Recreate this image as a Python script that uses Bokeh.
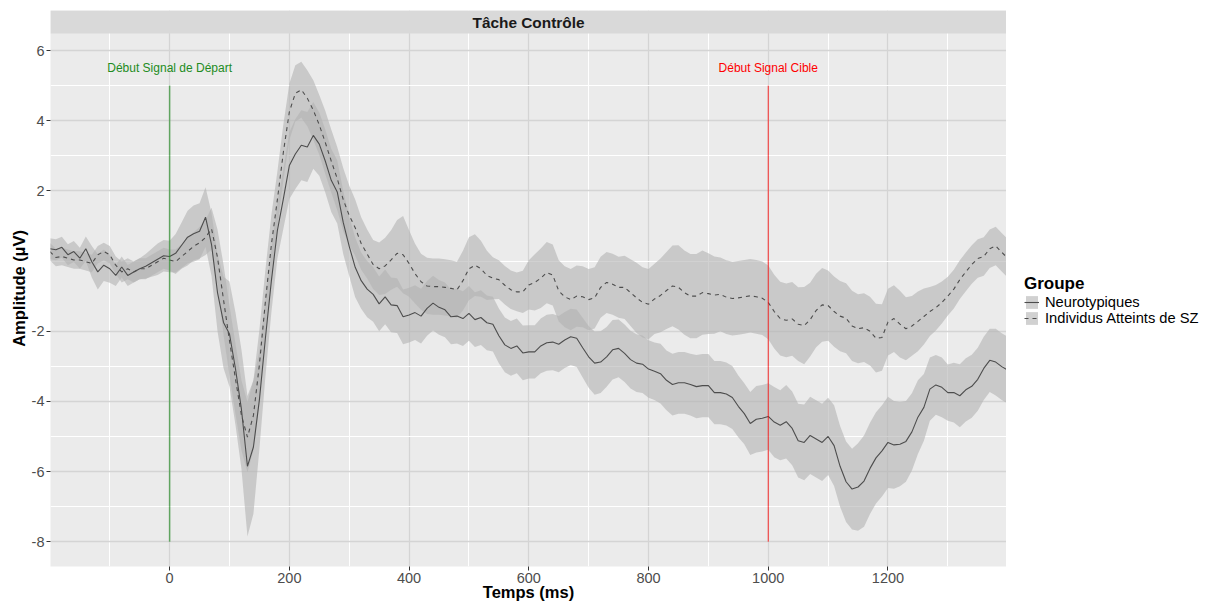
from bokeh.plotting import figure
from bokeh.layouts import row
from bokeh.models import (ColumnDataSource, FixedTicker, Range1d, BoxAnnotation,
                          Label, Legend, LegendItem)
from bokeh.core.properties import value
from bokeh.embed import file_html
from bokeh.resources import INLINE

FONT = "Liberation Sans"

# ---- data ----
times = list(range(-200, 1401, 10))

neuro_mean = [
    0.35, 0.32, 0.39, 0.18, 0.27, 0.08, 0.35, -0.02, -0.31, -0.12,
    -0.22, -0.41, -0.17, -0.41, -0.31, -0.22, -0.15, -0.05, 0.05, 0.15,
    0.13, 0.22, 0.45, 0.68, 0.78, 0.85, 1.25, 0.47, -0.9, -1.75,
    -2.08, -3.07, -4.23, -5.85, -5.3, -3.95, -2.2, -0.56, 0.87, 1.77,
    2.72, 3.05, 3.3, 3.25, 3.58, 3.33, 2.85, 2.3, 1.97, 1.1,
    0.42, -0.18, -0.56, -0.8, -0.95, -1.22, -1.02, -1.25, -1.27, -1.59,
    -1.54, -1.47, -1.57, -1.35, -1.2, -1.32, -1.39, -1.59, -1.57, -1.64,
    -1.49, -1.67, -1.61, -1.76, -1.8, -2.13, -2.39, -2.49, -2.42, -2.62,
    -2.59, -2.59, -2.42, -2.33, -2.31, -2.37, -2.25, -2.16, -2.2, -2.47,
    -2.73, -2.91, -2.88, -2.73, -2.53, -2.49, -2.63, -2.81, -2.91, -2.94,
    -3.08, -3.14, -3.21, -3.4, -3.52, -3.47, -3.47, -3.52, -3.58, -3.55,
    -3.55, -3.75, -3.75, -3.79, -3.89, -4.14, -4.35, -4.63, -4.51, -4.48,
    -4.43, -4.59, -4.68, -4.58, -4.77, -5.12, -5.17, -4.97, -5.07, -5.17,
    -5.0, -5.26, -5.85, -6.29, -6.5, -6.44, -6.27, -5.91, -5.61, -5.41,
    -5.17, -5.24, -5.22, -5.14, -4.87, -4.45, -4.17, -3.65, -3.53, -3.6,
    -3.75, -3.75, -3.84, -3.67, -3.57, -3.37, -3.06, -2.83, -2.88, -3.01,
    -3.11,
]

neuro_ci = [
    0.3, 0.3, 0.3, 0.3, 0.3, 0.3, 0.35, 0.45, 0.5, 0.45,
    0.4, 0.3, 0.3, 0.3, 0.3, 0.3, 0.35, 0.4, 0.45, 0.45,
    0.45, 0.55, 0.65, 0.75, 0.8, 0.8, 0.85, 0.9, 1.1, 1.3,
    1.5, 1.6, 1.7, 2.0, 1.9, 1.4, 1.1, 0.9, 0.8, 0.85,
    0.95, 1.0, 1.0, 1.0, 0.95, 0.9, 0.9, 0.9, 0.9, 0.9,
    0.85, 0.85, 0.8, 0.8, 0.78, 0.78, 0.78, 0.78, 0.78, 0.78,
    0.78, 0.78, 0.78, 0.78, 0.78, 0.78, 0.78, 0.78, 0.78, 0.78,
    0.78, 0.78, 0.78, 0.78, 0.78, 0.78, 0.78, 0.78, 0.78, 0.78,
    0.76, 0.76, 0.78, 0.8, 0.8, 0.8, 0.8, 0.8, 0.82, 0.85,
    0.88, 0.9, 0.88, 0.85, 0.85, 0.82, 0.82, 0.82, 0.82, 0.82,
    0.82, 0.82, 0.85, 0.85, 0.88, 0.88, 0.88, 0.88, 0.9, 0.9,
    0.9, 0.9, 0.9, 0.9, 0.9, 0.88, 0.87, 0.9, 0.95, 0.95,
    0.95, 1.0, 1.0, 1.05, 1.05, 1.05, 1.08, 1.1, 1.1, 1.1,
    1.1, 1.15, 1.15, 1.15, 1.15, 1.25, 1.3, 1.3, 1.3, 1.3,
    1.3, 1.25, 1.2, 1.15, 1.1, 1.05, 0.95, 0.9, 0.85, 0.85,
    0.8, 0.85, 0.9, 0.9, 0.9, 0.9, 0.9, 0.9, 0.95, 0.95,
    0.95,
]

sz_mean = [
    0.27, 0.1, 0.13, 0.08, 0.03, 0.03, -0.02, -0.07, 0.18, 0.27,
    0.18, -0.12, -0.31, -0.22, -0.31, -0.22, -0.22, -0.12, -0.02, 0.08,
    0.03, -0.02, 0.13, 0.27, 0.42, 0.52, 0.67, 0.92, 0.1, -1.1,
    -2.27, -3.36, -4.4, -5.02, -4.4, -2.95, -1.15, 0.47, 1.75, 3.1,
    4.25, 4.78, 4.88, 4.64, 4.3, 3.88, 3.38, 2.85, 2.35, 1.75,
    1.3, 0.95, 0.5, 0.2, -0.1, -0.22, -0.14, 0.03, 0.22, 0.18,
    -0.07, -0.36, -0.59, -0.71, -0.73, -0.73, -0.75, -0.78, -0.82, -0.56,
    -0.22, -0.12, -0.22, -0.41, -0.49, -0.53, -0.69, -0.82, -0.88, -0.88,
    -0.68, -0.61, -0.49, -0.33, -0.4, -0.85, -1.02, -1.1, -1.0, -1.02,
    -1.1, -1.05, -0.75, -0.61, -0.66, -0.75, -0.75, -0.9, -1.05, -1.18,
    -1.23, -1.08, -0.98, -0.84, -0.71, -0.75, -0.9, -1.0, -1.0, -0.9,
    -0.93, -0.97, -0.95, -1.03, -1.07, -1.05, -1.02, -0.99, -1.02, -1.06,
    -1.18, -1.44, -1.64, -1.69, -1.65, -1.8, -1.84, -1.67, -1.41, -1.25,
    -1.27, -1.44, -1.57, -1.63, -1.85, -1.93, -1.9, -2.0, -2.2, -2.18,
    -1.74, -1.64, -1.8, -1.93, -1.85, -1.72, -1.58, -1.44, -1.33, -1.18,
    -1.0, -0.8, -0.53, -0.31, -0.1, 0.07, 0.13, 0.35, 0.43, 0.25,
    0.08,
]

sz_ci = [
    0.25, 0.25, 0.25, 0.25, 0.25, 0.25, 0.25, 0.25, 0.25, 0.25,
    0.25, 0.25, 0.3, 0.3, 0.3, 0.3, 0.3, 0.3, 0.3, 0.3,
    0.3, 0.35, 0.35, 0.4, 0.4, 0.45, 0.5, 0.6, 0.8, 1.0,
    1.0, 1.0, 1.0, 1.0, 1.0, 1.0, 0.9, 0.85, 0.8, 0.8,
    0.8, 0.8, 0.8, 0.8, 0.85, 0.85, 0.9, 0.9, 0.9, 0.9,
    0.85, 0.8, 0.75, 0.7, 0.7, 0.75, 0.8, 0.85, 0.95, 1.1,
    0.95, 0.85, 0.8, 0.8, 0.8, 0.8, 0.8, 0.8, 0.8, 0.85,
    0.9, 0.88, 0.8, 0.7, 0.6, 0.55, 0.55, 0.55, 0.55, 0.6,
    0.7, 0.8, 0.85, 0.87, 0.87, 0.87, 0.87, 0.87, 0.87, 0.87,
    0.87, 0.87, 0.87, 0.87, 0.87, 0.87, 0.9, 0.95, 1.0, 1.0,
    1.0, 1.0, 1.05, 1.1, 1.15, 1.2, 1.2, 1.2, 1.2, 1.2,
    1.15, 1.1, 1.05, 1.05, 1.05, 1.05, 1.05, 1.05, 1.05, 1.05,
    1.05, 1.05, 1.05, 1.05, 1.05, 1.05, 1.1, 1.05, 1.05, 1.05,
    1.0, 1.0, 1.0, 1.0, 1.0, 0.98, 0.98, 0.98, 0.98, 0.95,
    0.95, 0.95, 0.95, 0.9, 0.85, 0.85, 0.8, 0.7, 0.65, 0.6,
    0.55, 0.55, 0.55, 0.55, 0.55, 0.55, 0.55, 0.55, 0.55, 0.55,
    0.55,
]

groups = ["Neurotypiques", "Individus Atteints de SZ"]
event_times = [0, 1000]
event_labels = ["Début Signal de Départ", "Début Signal Cible"]
event_colors = ["#228B22", "#FF0000"]
event_line_alpha = [0.65, 1.0]
event_line_width = [1.5, 0.8]
event_top = [5, 5]
event_bottom = [-8, -8]
event_label_y = [5.5, 5.5]

y_major = [-8, -6, -4, -2, 2, 4, 6]
y_minor = [-7, -5, -3, 0, 3, 5]
x_major = [0, 200, 400, 600, 800, 1000, 1200]
x_minor = [-100, 100, 300, 500, 700, 900, 1100, 1300]

panel_title = "Tâche Contrôle"

X0, X1 = -199, 1398
Y0, Y1 = -8.706, 7.14
Y_PANEL_TOP = 6.484

# ---- sources ----
src_n = ColumnDataSource(dict(
    t=times, m=neuro_mean,
    lo=[m - c for m, c in zip(neuro_mean, neuro_ci)],
    hi=[m + c for m, c in zip(neuro_mean, neuro_ci)]))
src_s = ColumnDataSource(dict(
    t=times, m=sz_mean,
    lo=[m - c for m, c in zip(sz_mean, sz_ci)],
    hi=[m + c for m, c in zip(sz_mean, sz_ci)]))
src_ev = ColumnDataSource(dict(
    x=event_times, y0=event_bottom, y1=event_top, ly=event_label_y,
    text=event_labels, color=event_colors, alpha=event_line_alpha,
    width=event_line_width))

MAIN_W, LEG_W, H = 1006, 207, 604
p = figure(width=MAIN_W, height=H, output_backend="svg", toolbar_location=None,
           x_range=Range1d(X0, X1), y_range=Range1d(Y0, Y1),
           min_border_left=50, min_border_top=10, min_border_right=0,
           min_border_bottom=38)

p.background_fill_color = "#EBEBEB"
p.border_fill_color = "white"
p.outline_line_color = None

# grids
p.xaxis.ticker = FixedTicker(ticks=x_major, minor_ticks=x_minor)
p.yaxis.ticker = FixedTicker(ticks=y_major, minor_ticks=y_minor)
for g in (p.xgrid, p.ygrid):
    g.grid_line_color = "#D4D4D4"
    g.grid_line_width = 1.3
    g.minor_grid_line_color = "white"
    g.minor_grid_line_width = 1.0

# axes
for ax in (p.xaxis, p.yaxis):
    ax.axis_line_color = None
    ax.major_tick_line_color = "#333333"
    ax.major_tick_out = 4
    ax.major_tick_in = 0
    ax.minor_tick_line_color = None
    ax.major_label_text_font = FONT
    ax.major_label_text_font_size = "14.5px"
    ax.major_label_text_color = "#4D4D4D"
    ax.major_label_standoff = 2
    ax.axis_label_text_font = FONT
    ax.axis_label_text_font_style = "bold"
    ax.axis_label_text_font_size = "16.5px"
    ax.axis_label_text_color = "black"
p.xaxis.axis_label = "Temps (ms)"
p.yaxis.axis_label = "Amplitude (µV)"
p.xaxis.axis_label_standoff = -3
p.yaxis.axis_label_standoff = 1
p.yaxis.major_label_overrides = {v: str(v) for v in y_major}
p.xaxis.major_label_overrides = {v: str(v) for v in x_major}

# ribbons and lines
band_kw = dict(fill_color="#B3B3B3", fill_alpha=0.6)
line_kw = dict(line_color="#4D4D4D", line_width=1.1)
p.varea(x="t", y1="lo", y2="hi", source=src_n, **band_kw)
p.varea(x="t", y1="lo", y2="hi", source=src_s, **band_kw)
p.line(x="t", y="m", source=src_n, **line_kw)
p.line(x="t", y="m", source=src_s, line_dash="4 4", **line_kw)

# event markers
p.segment(x0="x", y0="y0", x1="x", y1="y1", source=src_ev, line_color="color",
          line_alpha="alpha", line_width="width")
p.text(x="x", y="ly", text="text", source=src_ev, text_color="color",
       text_font=value(FONT), text_font_size="12px", text_align="center",
       text_baseline="middle")

# facet strip
p.add_layout(BoxAnnotation(bottom=Y_PANEL_TOP, fill_color="#D9D9D9", fill_alpha=1,
                           line_color=None))
p.add_layout(Label(x=(X0 + X1) / 2, y=(Y_PANEL_TOP + Y1) / 2, text=panel_title,
                   text_font=FONT, text_font_style="bold", text_font_size="15.4px",
                   text_color="#1A1A1A", text_align="center", text_baseline="middle"))

# ---- legend panel (separate figure to the right; its glyphs lie out of view) ----
q = figure(width=LEG_W, height=H, output_backend="svg", toolbar_location=None,
           x_axis_type=None, y_axis_type=None,
           x_range=Range1d(5000, 6000), y_range=Range1d(Y0, Y1),
           min_border_left=0, min_border_right=0, min_border_top=0,
           min_border_bottom=0)
q.outline_line_color = None
q.background_fill_color = "white"
q.border_fill_color = "white"
l_nb = q.varea(x="t", y1="lo", y2="hi", source=src_n, **band_kw)
l_sb = q.varea(x="t", y1="lo", y2="hi", source=src_s, **band_kw)
l_nl = q.line(x="t", y="m", source=src_n, **line_kw)
l_sl = q.line(x="t", y="m", source=src_s, line_dash="4 4", **line_kw)

legend = Legend(items=[LegendItem(label=groups[0], renderers=[l_nb, l_nl]),
                       LegendItem(label=groups[1], renderers=[l_sb, l_sl])],
                location=(18, 240), title="Groupe",
                title_text_font=FONT, title_text_font_style="bold",
                title_text_font_size="17px", title_text_color="black",
                title_standoff=0,
                label_text_font=FONT, label_text_font_size="14.7px",
                label_text_color="black",
                glyph_width=15, glyph_height=16, label_height=16,
                label_standoff=6, spacing=0, padding=0, margin=0,
                background_fill_alpha=0, border_line_color=None)
q.add_layout(legend)

layout = row(p, q, spacing=0)
open("out.html", "w").write(file_html(layout, INLINE))
